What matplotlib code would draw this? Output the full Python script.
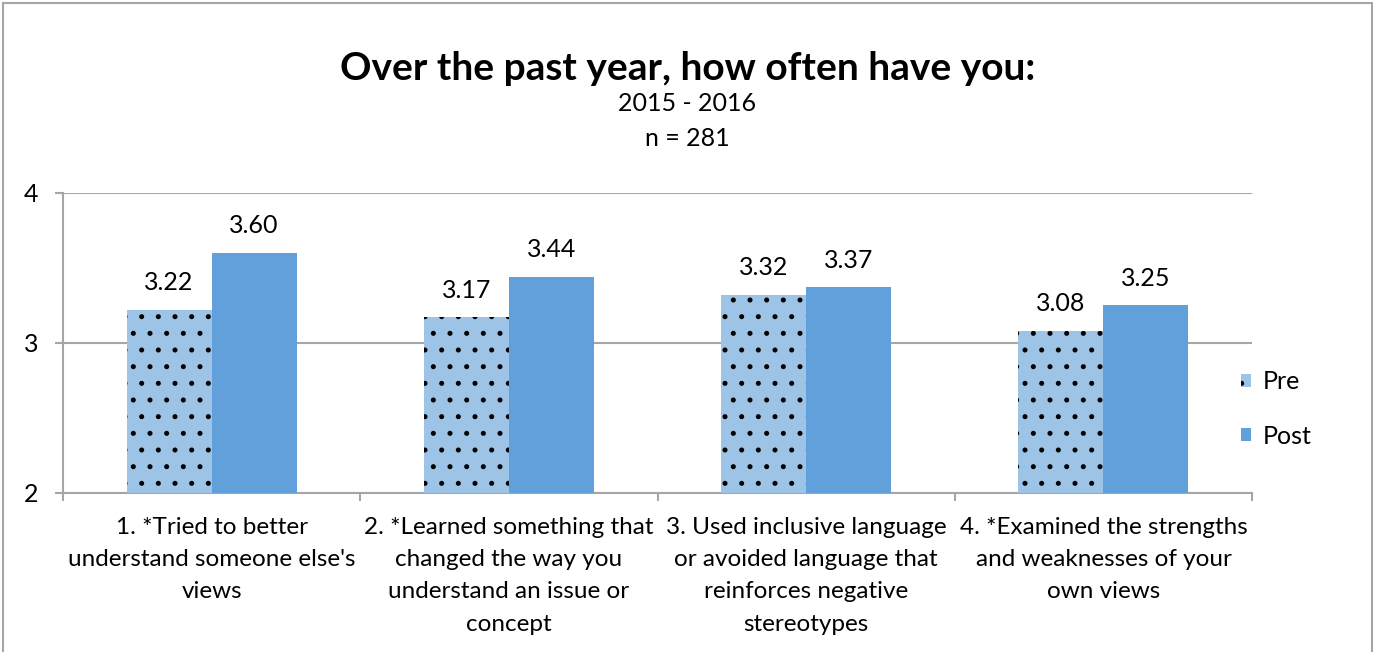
import numpy as np
import matplotlib.pyplot as plt
from matplotlib.patches import Rectangle

plt.rcParams['font.family'] = ['Lato', 'DejaVu Sans']
plt.rcParams['hatch.linewidth'] = 1.2

categories = [
    "1. *Tried to better\nunderstand someone else's\nviews",
    "2. *Learned something that\nchanged the way you\nunderstand an issue or\nconcept",
    "3. Used inclusive language\nor avoided language that\nreinforces negative\nstereotypes",
    "4. *Examined the strengths\nand weaknesses of your\nown views",
]
pre = [3.22, 3.17, 3.32, 3.08]
post = [3.60, 3.44, 3.37, 3.25]

pre_color = '#9DC3E6'
post_color = '#62A0DC'
grid_color = '#A6A6A6'

fig = plt.figure(figsize=(13.75, 6.52), dpi=100)
ax = fig.add_axes([0.0458, 0.2439, 0.8648, 0.4601])

x = np.arange(len(categories))
w = 0.286
ax.bar(x - w / 2, pre, w, color=pre_color, edgecolor='black',
       linewidth=0, hatch='.', label='Pre', zorder=3)
ax.bar(x + w / 2, post, w, color=post_color, linewidth=0, label='Post', zorder=3)

for xi, v in zip(x - w / 2, pre):
    ax.text(xi, v + 0.133, f'{v:.2f}', ha='center', va='baseline', fontsize=18)
for xi, v in zip(x + w / 2, post):
    ax.text(xi, v + 0.133, f'{v:.2f}', ha='center', va='baseline', fontsize=18)

ax.set_ylim(2, 4)
ax.set_xlim(-0.5, len(categories) - 0.5)
ax.set_yticks([2, 3, 4])
ax.set_yticklabels(['2', '3', '4'], fontsize=18)
ax.yaxis.grid(True, color=grid_color, linewidth=1.5, zorder=0)
ax.set_axisbelow(True)

# category boundaries as ticks, labels placed as text so line spacing sticks
ax.set_xticks(np.arange(-0.5, len(categories)))
ax.set_xticklabels([])
ax.tick_params(axis='x', length=6, color=grid_color, width=1.5)
ax.tick_params(axis='y', length=6, color=grid_color, width=1.5, pad=12)
for xi, lab in zip(x, categories):
    ax.text(xi, -0.08, lab, transform=ax.get_xaxis_transform(), ha='center',
            va='top', fontsize=17.5, linespacing=1.66)

for s in ['top', 'right']:
    ax.spines[s].set_visible(False)
for s in ['left', 'bottom']:
    ax.spines[s].set_color(grid_color)
    ax.spines[s].set_linewidth(1.5)

fig.text(0.5, 0.895, 'Over the past year, how often have you:', ha='center',
         va='center', fontsize=28, fontweight='bold')
fig.text(0.5, 0.842, '2015 - 2016', ha='center', va='center', fontsize=18)
fig.text(0.5, 0.788, 'n = 281', ha='center', va='center', fontsize=18)

ax.legend(loc='center left', bbox_to_anchor=(0.991, 0.28), frameon=False,
          fontsize=18, handlelength=0.4, handleheight=0.4, labelspacing=1.25,
          handletextpad=0.45, borderpad=0, borderaxespad=0)

fig.patches.append(Rectangle((0.002, -0.01), 0.996, 1.005, transform=fig.transFigure,
                             fill=False, edgecolor='#A6A6A6', linewidth=1.5))

fig.savefig('out.png', dpi=100)
